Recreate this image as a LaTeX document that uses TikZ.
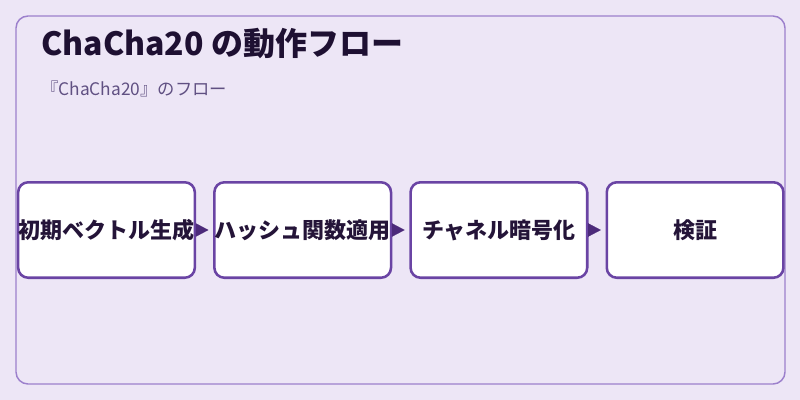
\documentclass[tikz,border=0pt]{standalone}
\usepackage{fontspec}
\setmainfont{Noto Sans CJK JP}
\usetikzlibrary{positioning,arrows.meta}
\definecolor{pagebg}{RGB}{237,230,246}
\definecolor{frameline}{RGB}{156,128,204}
\definecolor{boxline}{RGB}{106,68,164}
\definecolor{arrowfill}{RGB}{76,42,122}
\definecolor{titleink}{RGB}{30,16,50}
\definecolor{subink}{RGB}{96,80,130}
\definecolor{boxink}{RGB}{36,20,56}
\tikzset{
  stage/.style={draw=boxline,fill=white,line width=1.9pt,rounded corners=7.5pt,
    minimum width=132.5pt,minimum height=71.6pt,inner sep=0pt,
    font=\fontsize{16.5}{18}\selectfont\bfseries,text=boxink},
  flow/.style={draw=arrowfill,line width=0.1pt,shorten >=3.5pt,
    -{Triangle[length=9.5pt,width=10pt,fill=arrowfill]}}
}
\begin{document}
\begin{tikzpicture}[x=0.75pt,y=0.75pt,yscale=-1,xscale=1]
	%set diagram size: 800 x 400
	\fill[pagebg] (0,0) rectangle (800,400);
	\useasboundingbox (0,0) rectangle (800,400);
	
	%Shape: Rectangle [id:frame]
	\draw[frameline,line width=1.1pt,rounded corners=9pt] (16,16) rectangle (785,384);
	
	% Text Node
	\node[anchor=base west,inner sep=0pt,text=titleink,font=\fontsize{24}{27}\selectfont\bfseries] (title) at (41,55) {ChaCha20 の動作フロー};
	% Text Node
	\node[anchor=base west,inner sep=0pt,text=subink,font=\fontsize{13}{15}\selectfont] (subtitle) at (41,95) {『ChaCha20』のフロー};
	
	%Stages
	\node[stage] (init) at (106.5,230) {初期ベクトル生成};
	\node[stage,right=12.75pt of init] (hash) {ハッシュ関数適用};
	\node[stage,right=12.75pt of hash] (enc) {チャネル暗号化};
	\node[stage,right=12.75pt of enc] (verify) {検証};
	
	%Arrows
	\draw[flow] (init) -- (hash);
	\draw[flow] (hash) -- (enc);
	\draw[flow] (enc) -- (verify);
	
\end{tikzpicture}
\end{document}
